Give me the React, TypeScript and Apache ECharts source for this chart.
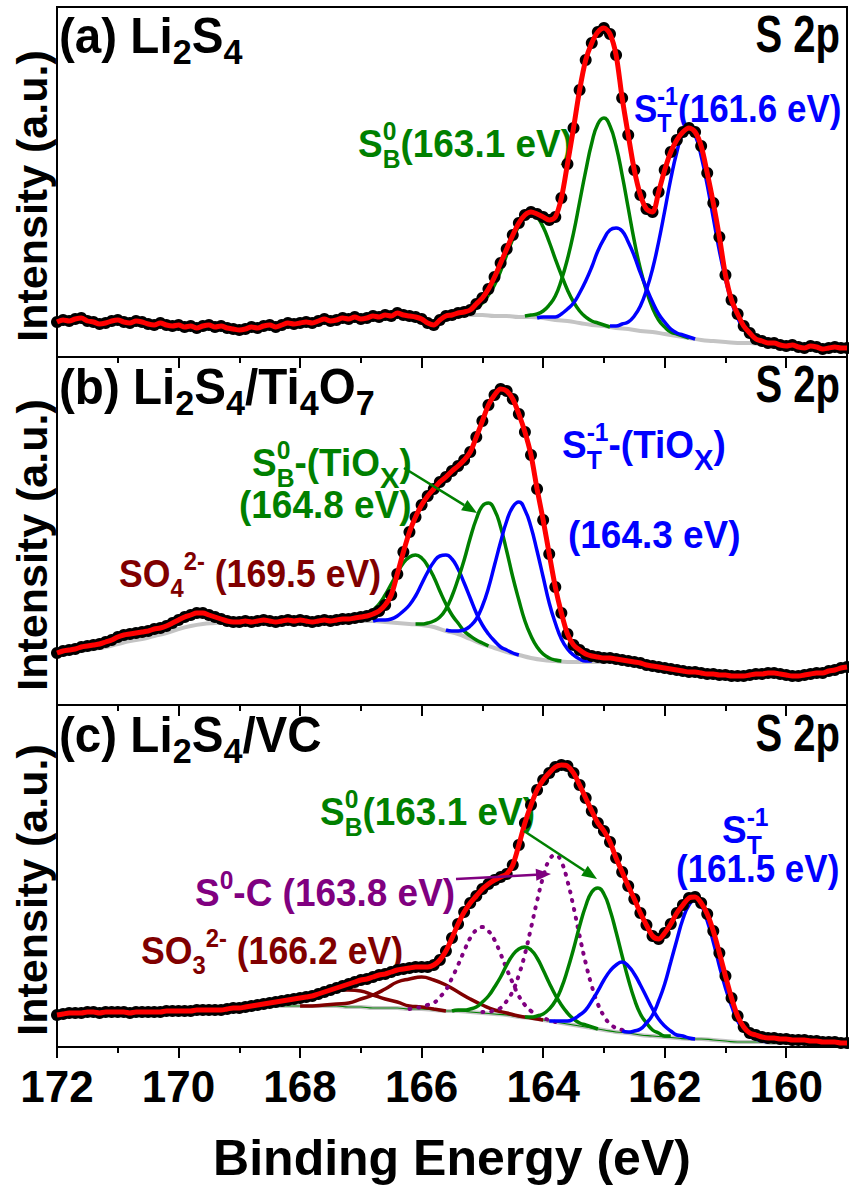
import React, { useEffect, useRef } from "react";
import * as echarts from "echarts";

const FONT = "'Liberation Sans', Arial, Helvetica, sans-serif";
const GREEN = "#008000";
const BLUE = "#0000ff";
const RED = "#ff0000";
const BROWN = "#800000";
const PURPLE = "#800080";
const GRAY = "#c4c4c4";

// ---------- axis ----------
const X_MIN = 159;
const X_MAX = 172;
const majorTicks = [172, 170, 168, 166, 164, 162, 160];
const minorTicks = [171, 169, 167, 165, 163, 161];
const xTitle = "Binding Energy (eV)";
const yTitle = "Intensity (a.u.)";

// ---------- measured spectra: 172.0 -> 159.0 eV, 0.1 eV steps ----------
const SPEC_START = 172.0;
const SPEC_STEP = 0.1;

const spectrumA = [
  38, 40, 39, 41, 42, 39, 38, 36, 37, 39,
  40, 38, 37, 39, 38, 36, 35, 37, 35, 34,
  35, 33, 34, 32, 34, 35, 33, 34, 32, 31,
  30, 31, 33, 32, 34, 35, 33, 35, 37, 36,
  37, 38, 37, 39, 41, 39, 40, 42, 41, 43,
  41, 42, 44, 43, 45, 44, 47, 45, 44, 43,
  41, 37, 35, 40, 44, 45,
  47, 48, 50, 56, 62, 71, 83, 97, 111, 125,
  137, 145, 148, 146, 143, 140, 143, 162, 196, 232,
  270, 300, 317, 328, 332, 326, 305, 262, 225, 190,
  165, 151, 148, 168, 190, 208, 220, 228, 232, 228,
  214, 187, 157, 123, 85, 60, 46, 34, 27, 21,
  19, 17, 17, 15, 14, 15, 13, 12, 14, 13,
  11, 12, 13, 12, 12,
];

const spectrumB = [
  64, 66, 67, 68, 70, 71, 72, 73, 75, 77,
  80, 82, 83, 84, 85, 86, 88, 89, 91, 94,
  97, 100, 102, 104, 104, 102, 100, 98, 96, 95,
  95,
  96, 95, 96, 97, 96, 95, 96, 97, 96, 97,
  96, 95, 96, 97, 96, 97, 98, 98, 99, 100,
  101, 103, 106, 112, 122, 143, 165, 185, 200, 212,
  221, 228, 235, 240, 246, 251, 257, 265, 280, 296,
  312, 322, 328, 326, 318, 303, 285, 262, 228, 197,
  163, 130, 104, 83, 72, 67, 63, 61, 60, 59,
  59, 58, 57, 56, 55, 54, 52, 51, 50, 49,
  48, 47, 46, 45, 45, 44, 43, 43, 42, 42,
  41, 41, 41, 42, 43, 43, 44, 44, 43, 42,
  41, 41, 42, 43, 44, 44, 46, 47, 49, 50,
];

const spectrumC = [
  58, 59, 60, 60, 60, 61, 61, 60, 61, 61,
  61, 61, 60, 61, 61, 61, 61, 61, 62, 62,
  62, 62, 62, 63, 63, 63, 63, 63, 64, 65,
  65,
  66, 67, 68, 69, 70, 71, 72, 73, 74, 75,
  76, 77, 79, 81, 83, 85, 87, 89, 91, 93,
  94, 96, 98, 99, 101, 103, 104, 105, 106, 106,
  106, 108, 113, 122, 135, 149, 161, 170, 177, 184,
  189, 193, 196, 199, 208, 228, 250, 268, 283, 293,
  300, 306, 308, 307, 300, 288, 275, 262, 250, 242,
  231, 215, 201, 187, 174, 160, 148, 137, 134, 140,
  149, 160, 168, 175, 176, 170, 159, 142, 120, 97,
  75, 57, 46, 40, 38, 36, 35, 35, 34, 34,
  33, 33, 33, 32, 32, 31, 31, 31, 30, 30,
];

// ---------- backgrounds (0.2 eV steps) ----------
const BG_STEP = 0.2;
const bgAStart = 165.6;
const backgroundA = [45, 45, 45, 45, 44, 44, 43, 43, 42, 40, 39, 37, 35, 34, 32, 31, 29, 28, 26, 24, 22, 20, 19, 18, 17, 17, 16, 16, 15];
const bgBStart = 172.0;
const backgroundB = [
  62, 64, 66, 68, 70, 73, 76, 78, 81, 84, 88, 91, 93, 94, 95, 95, 95, 96, 95, 96,
  96, 95, 96, 96, 96, 96, 96, 95, 94, 93, 92, 90, 86, 83, 78, 73, 69, 65, 62, 59,
  57, 56, 55, 55, 55, 55,
];
const bgCStart = 169.0;
const backgroundC = [
  64, 66, 67, 67, 67, 67, 67, 67, 67, 66, 66, 65, 65, 65, 64, 64, 63, 62, 62, 61,
  60, 59, 58, 56, 55, 53, 51, 49, 47, 45, 43, 41, 40, 38, 37, 36, 35, 34, 34, 33,
  32, 31, 31, 31, 30, 30,
];

// ---------- fitted components (0.1 eV steps unless noted) ----------
const COMP_STEP = 0.1;
// panel (a)
const greenA1Start = 165.5;
const greenA1 = [45, 46, 47, 49, 52, 57, 65, 75, 89, 105, 121, 134, 144, 147, 143, 133, 118, 101, 85, 70, 58, 49, 43, 39, 37, 35, 33];
const greenA2Start = 164.3;
const greenA2 = [44, 45, 46, 49, 55, 64, 80, 101, 127, 158, 189, 217, 236, 242, 234, 214, 185, 152, 119, 91, 69, 52, 40, 33, 28, 26, 24, 22];
const blueA1Start = 164.1;
const blueA1 = [42, 43, 43, 43, 46, 51, 57, 67, 79, 93, 109, 121, 130, 132, 129, 118, 104, 87, 72, 58, 46, 38, 31, 27, 25, 23, 21];
const blueA2Start = 162.9;
const blueA2 = [34, 34, 36, 38, 44, 54, 70, 91, 118, 149, 181, 208, 227, 233, 225, 204, 175, 142, 109, 81, 58, 42, 31, 24, 21, 18, 17];
// panel (b)
const greenB1Start = 167.3;
const greenB1 = [96, 97, 98, 99, 102, 107, 113, 122, 133, 144, 154, 160, 162, 159, 151, 140, 126, 113, 102, 94, 86, 81, 77, 74, 71];
const blueB1Start = 166.8;
const blueB1 = [96, 97, 97, 98, 101, 106, 112, 121, 133, 145, 155, 161, 162, 158, 148, 134, 119, 104, 92, 83, 76, 70, 67, 64, 62];
const greenB2Start = 166.1;
const greenB2 = [93, 93, 94, 96, 100, 108, 121, 138, 157, 179, 198, 211, 214, 207, 190, 166, 140, 117, 96, 81, 70, 63, 59, 57, 56];
const blueB2Start = 165.6;
const blueB2 = [87, 86, 86, 87, 91, 98, 111, 129, 152, 175, 196, 210, 215, 207, 190, 166, 140, 114, 94, 78, 68, 62, 58, 56, 56];
// panel (c)
const greenC2Start = 164.3;
const greenC2 = [56, 56, 57, 59, 64, 72, 85, 103, 124, 147, 167, 181, 185, 179, 163, 141, 117, 94, 74, 59, 50, 43, 40, 37, 37];
const greenC1Start = 165.5;
const greenC1 = [62, 63, 63, 64, 66, 71, 77, 86, 96, 108, 118, 124, 126, 123, 115, 103, 90, 78, 68, 60, 54, 50, 48, 46, 44];
const blueC2Start = 162.7;
const blueC2 = [42, 41, 42, 44, 50, 58, 72, 89, 111, 133, 154, 168, 173, 168, 152, 131, 107, 85, 67, 52, 43, 37, 34, 32, 31];
const blueC1Start = 163.9;
const blueC1 = [52, 52, 52, 52, 54, 58, 63, 72, 82, 93, 102, 108, 111, 107, 99, 88, 76, 64, 54, 47, 42, 38, 37, 35, 34];
const purpleC2Start = 165.0;
const purpleC2 = [61, 61, 63, 65, 72, 82, 98, 119, 145, 172, 196, 213, 218, 211, 192, 166, 137, 110, 87, 69, 57, 49, 45, 43, 41];
const purpleC1Start = 166.2;
const purpleC1 = [64, 65, 66, 68, 70, 76, 83, 95, 108, 122, 135, 143, 146, 142, 133, 119, 104, 90, 77, 68, 62, 58, 55, 53, 51];
const BROWN_STEP = 0.2;
const brownC2Start = 168.0;
const brownC2 = [67, 67, 68, 69, 70, 74, 78, 84, 91, 94, 96, 93, 88, 81, 74, 68, 63, 60, 57, 55, 53];
const brownC1Start = 168.8;
const brownC1 = [66, 68, 69, 70, 73, 76, 80, 83, 83, 82, 78, 74, 71, 67, 66, 64, 62];

// ---------- layout ----------
const PLOT_LEFT = 57;
const PLOT_RIGHT = 847;
const PANEL_TOPS = [7, 357, 705];
const PANEL_HEIGHTS = [350, 348, 342];
// intensity window shown in each panel (arbitrary units)
const Y_MINS = [3, 12, 26];

const pairs = (start: number, step: number, vals: number[]) =>
  vals.map((v, i) => [Math.round((start - i * step) * 100) / 100, v]);

type Piece = { t: string; size: number; dy?: number; stack?: boolean };
type Note = { x: number; y: number; color: string; sx: number; sy: number; align?: "left" | "right"; pieces: Piece[] };

let measureCtx: CanvasRenderingContext2D | null = null;
function getCtx() {
  if (!measureCtx) measureCtx = document.createElement("canvas").getContext("2d");
  return measureCtx;
}
function textWidth(t: string, size: number) {
  const c = getCtx();
  if (!c) return t.length * size * 0.6;
  c.font = `bold ${size}px ${FONT}`;
  return c.measureText(t).width;
}

function buildNote(n: Note) {
  const children: any[] = [];
  let cursor = 0;
  let pending = 0;
  for (const p of n.pieces) {
    const w = textWidth(p.t, p.size);
    children.push({
      type: "text",
      x: cursor,
      y: (p.dy ?? 0) - 0.3465 * p.size,
      style: {
        text: p.t,
        fill: n.color,
        font: `bold ${p.size}px ${FONT}`,
        textAlign: "left",
        align: "left",
        textVerticalAlign: "middle",
        verticalAlign: "middle",
      },
    });
    if (p.stack) pending = Math.max(pending, w);
    else {
      cursor += Math.max(w, pending);
      pending = 0;
    }
  }
  const gx = n.align === "right" ? n.x - cursor * n.sx : n.x;
  return { type: "group", x: gx, y: n.y, scaleX: n.sx, scaleY: n.sy, silent: true, z: 100, children };
}

function arrow(x1: number, y1: number, x2: number, y2: number, color: string) {
  const a = Math.atan2(y2 - y1, x2 - x1);
  const L = 15;
  const W = 6;
  const bx = x2 - L * Math.cos(a);
  const by = y2 - L * Math.sin(a);
  const px = -Math.sin(a) * W;
  const py = Math.cos(a) * W;
  return [
    { type: "line", z: 100, silent: true, shape: { x1, y1, x2: bx, y2: by }, style: { stroke: color, lineWidth: 2.5 } },
    {
      type: "polygon",
      z: 100,
      silent: true,
      shape: { points: [[x2, y2], [bx + px, by + py], [bx - px, by - py]] },
      style: { fill: color },
    },
  ];
}

const M = 33; // annotation main size
const SC = 22; // script size
const SXN = 1.12;
const SYN = 1.15;
const LBL = 39;
const LSUB = 28;
const SXL = 1.22;
const SYL = 1.28;

const p = (t: string, size: number, dy = 0, stack = false): Piece => ({ t, size, dy, stack });
const sup = (t: string) => p(t, SC, -15, true);
const sub = (t: string) => p(t, SC, 9);

const notes: Note[] = [
  // (a)
  { x: 59, y: 53, color: "#000", sx: SXL, sy: SYL, pieces: [p("(a) Li", LBL), p("2", LSUB, 8), p("S", LBL), p("4", LSUB, 8)] },
  { x: 840, y: 52, color: "#000", sx: 1.0, sy: 1.28, align: "right", pieces: [p("S 2p", 40)] },
  { x: 358, y: 157, color: GREEN, sx: SXN, sy: SYN, pieces: [p("S", M), sup("0"), sub("B"), p("(163.1 eV)", M)] },
  { x: 634, y: 122, color: BLUE, sx: 1.06, sy: SYN, pieces: [p("S", M), sup("-1"), sub("T"), p("(161.6 eV)", M)] },
  // (b)
  {
    x: 59, y: 404, color: "#000", sx: SXL, sy: SYL,
    pieces: [p("(b) Li", LBL), p("2", LSUB, 8), p("S", LBL), p("4", LSUB, 8), p("/Ti", LBL), p("4", LSUB, 8), p("O", LBL), p("7", LSUB, 8)],
  },
  { x: 840, y: 402, color: "#000", sx: 1.0, sy: 1.28, align: "right", pieces: [p("S 2p", 40)] },
  { x: 252, y: 476, color: GREEN, sx: SXN, sy: SYN, pieces: [p("S", M), sup("0"), sub("B"), p("-(TiO", M), p("X", 26, 10), p(")", M)] },
  { x: 239, y: 518, color: GREEN, sx: SXN, sy: SYN, pieces: [p("(164.8 eV)", M)] },
  { x: 562, y: 458, color: BLUE, sx: SXN, sy: SYN, pieces: [p("S", M), sup("-1"), sub("T"), p("-(TiO", M), p("X", 26, 10), p(")", M)] },
  { x: 568, y: 548, color: BLUE, sx: SXN, sy: SYN, pieces: [p("(164.3 eV)", M)] },
  { x: 119, y: 587, color: BROWN, sx: 1.08, sy: SYN, pieces: [p("SO", M), p("4", SC, 9), p("2-", SC, -15), p(" (169.5 eV)", M)] },
  // (c)
  { x: 59, y: 752, color: "#000", sx: SXL, sy: SYL, pieces: [p("(c) Li", LBL), p("2", LSUB, 8), p("S", LBL), p("4", LSUB, 8), p("/VC", LBL)] },
  { x: 840, y: 751, color: "#000", sx: 1.0, sy: 1.28, align: "right", pieces: [p("S 2p", 40)] },
  { x: 320, y: 825, color: GREEN, sx: SXN, sy: SYN, pieces: [p("S", M), sup("0"), sub("B"), p("(163.1 eV)", M)] },
  { x: 195, y: 906, color: PURPLE, sx: SXN, sy: SYN, pieces: [p("S", M), p("0", SC, -15), p("-C (163.8 eV)", M)] },
  { x: 141, y: 964, color: BROWN, sx: 1.08, sy: SYN, pieces: [p("SO", M), p("3", SC, 9), p("2-", SC, -15), p(" (166.2 eV)", M)] },
  { x: 722, y: 843, color: BLUE, sx: SXN, sy: SYN, pieces: [p("S", M), sup("-1"), sub("T")] },
  { x: 676, y: 882, color: BLUE, sx: 1.06, sy: SYN, pieces: [p("(161.5 eV)", M)] },
];

function buildOption() {
  const AXIS_FONT = FONT;
  const tickSize = 44;
  const tickMargin = 17;
  const titleSize = 50;
  const titleGap = 86;
  const ySize = 43;

  const grid = PANEL_TOPS.map((top, i) => ({
    left: PLOT_LEFT,
    width: PLOT_RIGHT - PLOT_LEFT,
    top,
    height: PANEL_HEIGHTS[i],
    show: true,
    borderColor: "#000",
    borderWidth: 2,
    backgroundColor: "transparent",
  }));

  const xAxis: any[] = [];
  PANEL_TOPS.forEach((_, i) => {
    const last = i === PANEL_TOPS.length - 1;
    xAxis.push({
      type: "value",
      gridIndex: i,
      min: X_MIN,
      max: X_MAX,
      inverse: true,
      position: "bottom",
      axisLine: { show: false },
      splitLine: { show: false },
      axisTick: { show: true, inside: false, length: 11, customValues: majorTicks, lineStyle: { color: "#000", width: 2 } },
      axisLabel: last
        ? { show: true, customValues: majorTicks, fontSize: tickSize, fontWeight: "bold", fontFamily: AXIS_FONT, color: "#000", margin: tickMargin }
        : { show: false },
      name: last ? xTitle : "",
      nameLocation: "middle",
      nameGap: titleGap,
      nameTextStyle: { fontSize: titleSize, fontWeight: "bold", fontFamily: AXIS_FONT, color: "#000" },
    });
    xAxis.push({
      type: "value",
      gridIndex: i,
      min: X_MIN,
      max: X_MAX,
      inverse: true,
      position: "bottom",
      axisLine: { show: false },
      splitLine: { show: false },
      axisTick: { show: true, inside: false, length: 6, customValues: minorTicks, lineStyle: { color: "#000", width: 2 } },
      axisLabel: { show: false },
    });
  });

  const yAxis = PANEL_TOPS.map((_, i) => ({
    type: "value",
    gridIndex: i,
    min: Y_MINS[i],
    max: Y_MINS[i] + PANEL_HEIGHTS[i],
    axisLine: { show: false },
    axisTick: { show: false },
    axisLabel: { show: false },
    splitLine: { show: false },
    name: yTitle,
    nameLocation: "middle",
    nameRotate: 90,
    nameGap: 4,
    nameTextStyle: { fontSize: ySize, fontWeight: "bold", fontFamily: AXIS_FONT, color: "#000", padding: [0, 28, 0, 0] },
  }));

  const line = (gi: number, data: number[][], color: string, width: number, z: number, extra: any = {}) => ({
    type: "line",
    xAxisIndex: gi * 2,
    yAxisIndex: gi,
    data,
    symbol: "none",
    smooth: true,
    silent: true,
    z,
    lineStyle: { color, width, ...(extra.lineStyle || {}) },
    ...(extra.series || {}),
  });
  const dots = (gi: number, vals: number[]) => ({
    type: "scatter",
    xAxisIndex: gi * 2,
    yAxisIndex: gi,
    data: pairs(SPEC_START, SPEC_STEP, vals),
    symbol: "circle",
    symbolSize: 12,
    itemStyle: { color: "#000", opacity: 1 },
    silent: true,
    z: 4,
  });
  const fit = (gi: number, vals: number[]) =>
    line(gi, pairs(SPEC_START, SPEC_STEP, vals), RED, 5, 5, { series: { smooth: 0.3 } });
  const dotted = { lineStyle: { type: [1, 8], cap: "round" } };

  const series: any[] = [
    // (a)
    line(0, pairs(bgAStart, BG_STEP, backgroundA), GRAY, 4, 2),
    line(0, pairs(greenA1Start, COMP_STEP, greenA1), GREEN, 3.5, 3),
    line(0, pairs(greenA2Start, COMP_STEP, greenA2), GREEN, 3.5, 3),
    line(0, pairs(blueA1Start, COMP_STEP, blueA1), BLUE, 3.5, 3),
    line(0, pairs(blueA2Start, COMP_STEP, blueA2), BLUE, 3.5, 3),
    dots(0, spectrumA),
    fit(0, spectrumA),
    // (b)
    line(1, pairs(bgBStart, BG_STEP, backgroundB), GRAY, 4, 2),
    line(1, pairs(greenB1Start, COMP_STEP, greenB1), GREEN, 3.5, 3),
    line(1, pairs(blueB1Start, COMP_STEP, blueB1), BLUE, 3.5, 3),
    line(1, pairs(greenB2Start, COMP_STEP, greenB2), GREEN, 3.5, 3),
    line(1, pairs(blueB2Start, COMP_STEP, blueB2), BLUE, 3.5, 3),
    dots(1, spectrumB),
    fit(1, spectrumB),
    // (c)
    line(2, pairs(bgCStart, BG_STEP, backgroundC), GRAY, 4, 2),
    line(2, pairs(bgCStart, BG_STEP, backgroundC), GREEN, 1.2, 2),
    line(2, pairs(brownC1Start, BROWN_STEP, brownC1), BROWN, 3.5, 3),
    line(2, pairs(brownC2Start, BROWN_STEP, brownC2), BROWN, 3.5, 3),
    line(2, pairs(purpleC1Start, COMP_STEP, purpleC1), PURPLE, 4, 3, dotted),
    line(2, pairs(purpleC2Start, COMP_STEP, purpleC2), PURPLE, 4, 3, dotted),
    line(2, pairs(greenC1Start, COMP_STEP, greenC1), GREEN, 3.5, 3),
    line(2, pairs(greenC2Start, COMP_STEP, greenC2), GREEN, 3.5, 3),
    line(2, pairs(blueC1Start, COMP_STEP, blueC1), BLUE, 3.5, 3),
    line(2, pairs(blueC2Start, COMP_STEP, blueC2), BLUE, 3.5, 3),
    dots(2, spectrumC),
    fit(2, spectrumC),
  ];

  const graphic: any[] = [
    ...notes.map(buildNote),
    ...arrow(404, 468, 477, 513, GREEN),
    ...arrow(524, 831, 597, 879, GREEN),
    ...arrow(456, 879, 551, 874, PURPLE),
  ];

  return {
    animation: false,
    backgroundColor: "#fff",
    textStyle: { fontFamily: FONT },
    grid,
    xAxis,
    yAxis,
    series,
    graphic,
  };
}

export default function App() {
  const ref = useRef<HTMLDivElement>(null);
  useEffect(() => {
    if (!ref.current) return;
    const chart = echarts.init(ref.current, undefined, { renderer: "svg" });
    chart.setOption(buildOption() as any);
    return () => chart.dispose();
  }, []);
  return (
    <div
      ref={ref}
      style={{ position: "absolute", left: 0, top: 0, width: 849, height: 1201, background: "#fff" }}
    />
  );
}
